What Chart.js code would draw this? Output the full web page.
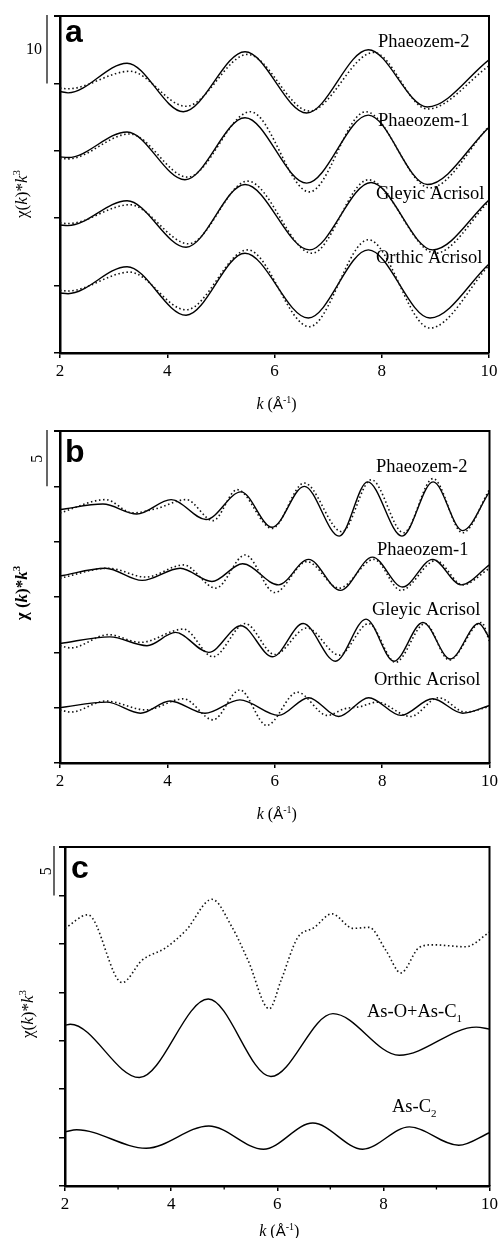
<!DOCTYPE html>
<html>
<head>
<meta charset="utf-8">
<script src="https://cdn.jsdelivr.net/npm/chart.js@4.4.0/dist/chart.umd.min.js"></script>
<style>
  body { margin: 0; background: #fff; width: 501px; height: 1238px; position: relative; overflow: hidden; }
  canvas { position: absolute; left: 0; }
</style>
</head>
<body>
<canvas id="ca" width="501" height="420" style="top:0px"></canvas>
<canvas id="cb" width="501" height="410" style="top:420px"></canvas>
<canvas id="cc" width="501" height="408" style="top:830px"></canvas>
<script>
// ---- panel a : chi(k)*k^3, offset curves (solid / dotted) ----
const aP2SolidK = [2, 2.15, 3.25, 4.3, 5.45, 6.6, 7.75, 8.85, 10];
const aP2SolidY = [38.8, 38.6, 43, 35.8, 44.7, 35.6, 45, 36.5, 43.5];
const aP2DotK = [2, 2.15, 3.3, 4.35, 5.5, 6.65, 7.85, 8.85, 10];
const aP2DotY = [39.3, 39.2, 41.8, 36.6, 44.3, 35.9, 44.6, 36.2, 42.6];
const aP1SolidK = [2, 2.15, 3.25, 4.33, 5.45, 6.6, 7.75, 8.85, 10];
const aP1SolidY = [29.1, 29.0, 32.8, 25.7, 34.9, 25.2, 35.3, 25.0, 33.5];
const aP1DotK = [2, 2.15, 3.3, 4.38, 5.55, 6.65, 7.7, 8.9, 10];
const aP1DotY = [28.9, 28.8, 32.5, 26.1, 35.8, 23.9, 35.8, 24.5, 33.6];
const aGlSolidK = [2, 2.15, 3.25, 4.35, 5.45, 6.65, 7.8, 8.95, 10];
const aGlSolidY = [19, 18.9, 22.6, 15.7, 25, 15.3, 25.3, 15.3, 22.7];
const aGlDotK = [2, 2.15, 3.3, 4.4, 5.5, 6.7, 7.75, 9.0, 10];
const aGlDotY = [19.3, 19.2, 22, 16.2, 25.5, 14.8, 25.7, 14.8, 22.5];
const aOrSolidK = [2, 2.15, 3.25, 4.35, 5.45, 6.63, 7.75, 8.9, 10];
const aOrSolidY = [8.9, 8.8, 12.8, 5.6, 14.8, 5.2, 15.3, 5.2, 13.2];
const aOrDotK = [2, 2.15, 3.3, 4.35, 5.5, 6.65, 7.75, 8.9, 10];
const aOrDotY = [9.3, 9.2, 12, 6.4, 15.3, 3.9, 16.8, 3.7, 13];

// ---- panel b ----
const bP2SolidK = [2, 2.8, 3.43, 4.07, 4.72, 5.37, 5.95, 6.55, 7.2, 7.73, 8.37, 8.95, 9.5, 10];
const bP2SolidY = [22.9, 23.4, 22.5, 23.8, 22, 24.5, 21.3, 25, 20.5, 25.4, 20.5, 25.4, 21, 24.5];
const bP2DotK = [2, 2.85, 3.35, 3.8, 4.35, 4.85, 5.3, 5.95, 6.55, 7.25, 7.8, 8.4, 8.95, 9.5, 10];
const bP2DotY = [22.6, 23.8, 22.6, 23.0, 23.8, 21.9, 24.7, 21.2, 25.3, 20.9, 25.6, 20.8, 25.7, 20.8, 24.7];
const bP1SolidK = [2, 2.85, 3.53, 4.24, 4.83, 5.4, 6.07, 6.63, 7.22, 7.82, 8.38, 8.94, 9.47, 10];
const bP1SolidY = [16.9, 17.6, 16.5, 17.6, 16.4, 18, 16.1, 18.4, 15.6, 18.6, 15.9, 18.4, 16.1, 17.9];
const bP1DotK = [2, 2.9, 3.6, 4.3, 4.9, 5.45, 6.0, 6.6, 7.2, 7.85, 8.35, 9.0, 9.5, 10];
const bP1DotY = [16.7, 17.6, 16.8, 17.9, 15.8, 18.8, 15.4, 18.2, 15.8, 18.4, 15.6, 18.3, 16.1, 17.6];
const bGlSolidK = [2, 2.93, 3.62, 4.15, 4.77, 5.37, 5.96, 6.53, 7.13, 7.7, 8.22, 8.76, 9.27, 9.8, 10];
const bGlSolidY = [10.8, 11.4, 10.6, 11.8, 10, 12.4, 9.6, 12.6, 9.2, 13, 9.2, 12.7, 9.4, 12.6, 11.3];
const bGlDotK = [2, 2.2, 2.9, 3.5, 4.3, 4.85, 5.45, 6.0, 6.6, 7.2, 7.75, 8.25, 8.8, 9.25, 9.85, 10];
const bGlDotY = [10.6, 10.4, 11.6, 10.9, 12.1, 9.6, 12.6, 9.8, 12.2, 9.75, 12.6, 9.1, 12.6, 9.3, 12.7, 11];
const bOrSolidK = [2, 2.87, 3.5, 4.05, 4.7, 5.35, 6.07, 6.63, 7.19, 7.75, 8.35, 8.94, 9.5, 10];
const bOrSolidY = [5, 5.5, 4.5, 5.6, 4.5, 5.7, 4.3, 5.9, 4.2, 5.9, 4.3, 5.8, 4.5, 5.2];
const bOrDotK = [2, 2.2, 2.85, 3.6, 4.3, 4.85, 5.35, 5.85, 6.42, 6.98, 7.3, 7.6, 7.9, 8.53, 9.05, 9.55, 10];
const bOrDotY = [4.8, 4.6, 5.6, 4.8, 5.8, 3.9, 6.6, 3.4, 6.4, 4.3, 4.9, 5.1, 5.5, 4.2, 5.9, 4.6, 5.1];

// ---- panel c ----
const cDotK = [2, 2.43, 3.08, 3.45, 3.9, 4.28, 4.77, 5.15, 5.45, 5.85, 6.07, 6.38, 6.7, 7.03, 7.43, 7.73, 8.05, 8.33, 8.67, 8.93, 9.55, 10];
const cDotY = [26.6, 28, 21, 23.3, 24.6, 26.4, 29.6, 26.7, 23.3, 18.3, 21.2, 25.6, 26.7, 28.1, 26.6, 26.7, 24.3, 22, 24.6, 24.9, 24.7, 26.2];
const cAsOC1K = [2, 2.1, 3.4, 4.7, 5.88, 7.05, 8.3, 9.75, 10];
const cAsOC1Y = [16.6, 16.7, 11.2, 19.3, 11.3, 17.8, 13.5, 16.4, 16.2];
const cAsC2K = [2, 2.22, 3.53, 4.71, 5.74, 6.67, 7.61, 8.49, 9.42, 10];
const cAsC2Y = [5.6, 5.8, 3.9, 6.2, 3.8, 6.5, 3.8, 6.1, 4.2, 5.5];

const kTicks = [2, 4, 6, 8, 10];
const cMinorTicks = [3, 5, 7, 9];

const SERIF = "'Liberation Serif', 'Times New Roman', serif";
const SANS = "'Liberation Sans', Arial, sans-serif";

const pts = (ks, ys) => ks.map((k, i) => ({ x: k, y: ys[i] }));
const solid = (ks, ys) => ({ data: pts(ks, ys), borderColor: '#000', borderWidth: 1.4 });
const dotted = (ks, ys) => ({ data: pts(ks, ys), borderColor: '#111', borderWidth: 1.6, borderDash: [1.5, 2.6] });

// draw a run of text pieces [text, font, dy]
function drawRuns(ctx, parts, x, y, align) {
  let w = 0;
  parts.forEach(p => { ctx.font = p[1]; w += ctx.measureText(p[0]).width; });
  let cx = align === 'center' ? x - w / 2 : x;
  parts.forEach(p => {
    ctx.font = p[1];
    ctx.fillText(p[0], cx, y + (p[2] || 0));
    cx += ctx.measureText(p[0]).width;
  });
}

function makePanel(id, P) {
  const decor = {
    id: 'decor',
    afterDraw(chart) {
      const { ctx, chartArea: a, scales: { x, y } } = chart;
      ctx.save();
      ctx.strokeStyle = '#000';
      ctx.fillStyle = '#000';
      // top and right frame
      ctx.lineWidth = 2;
      ctx.beginPath();
      ctx.moveTo(a.left - 6, a.top);
      ctx.lineTo(a.right, a.top);
      ctx.lineTo(a.right, a.bottom);
      ctx.stroke();
      // minor ticks
      ctx.lineWidth = 1.3;
      (P.minor || []).forEach(v => {
        const px = x.getPixelForValue(v);
        ctx.beginPath(); ctx.moveTo(px, a.bottom); ctx.lineTo(px, a.bottom + 3.5); ctx.stroke();
      });
      // scale bar
      const y0 = y.getPixelForValue(P.yMax), y1 = y.getPixelForValue(P.yMax - P.bar);
      const bx = a.left - P.barOff;
      ctx.lineWidth = 1.2;
      ctx.beginPath(); ctx.moveTo(bx, y0 - 1); ctx.lineTo(bx, y1); ctx.stroke();
      ctx.textBaseline = 'middle';
      ctx.textAlign = 'center';
      ctx.font = '16px ' + SERIF;
      if (P.barRot) {
        ctx.save();
        ctx.translate(bx - P.barLabOff, (y0 + y1) / 2);
        ctx.rotate(-Math.PI / 2);
        ctx.fillText(String(P.bar), 0, 0);
        ctx.restore();
      } else {
        ctx.fillText(String(P.bar), bx - P.barLabOff, (y0 + y1) / 2);
      }
      ctx.textAlign = 'left';
      ctx.textBaseline = 'alphabetic';
      // panel letter
      ctx.font = 'bold 32px ' + SANS;
      ctx.fillText(P.letter, P.letterPos[0], P.letterPos[1]);
      // curve labels
      P.labels.forEach(l => drawRuns(ctx, l.parts, l.x, l.y, 'left'));
      // x title
      const it = 'italic 16px ' + SERIF, rg = '16px ' + SERIF;
      drawRuns(ctx, [['k', it], [' (', rg], ['Å', '15px ' + SANS], ['-1', '10px ' + SERIF, -6], [')', rg]],
        (a.left + a.right) / 2 + 2, P.xTitleY, 'center');
      // y title
      ctx.save();
      ctx.translate(P.yTitle[0], P.yTitle[1]);
      ctx.rotate(-Math.PI / 2);
      drawRuns(ctx, P.yTitleParts, 0, 0, 'center');
      ctx.restore();
      ctx.restore();
    }
  };

  return new Chart(document.getElementById(id), {
    type: 'line',
    data: { datasets: P.datasets },
    options: {
      responsive: false,
      animation: false,
      devicePixelRatio: 1,
      layout: { padding: { top: P.pad[0], right: P.pad[1], left: 0, bottom: 0 } },
      plugins: { legend: { display: false }, tooltip: { enabled: false } },
      elements: { point: { radius: 0 }, line: { cubicInterpolationMode: 'monotone', fill: false } },
      scales: {
        x: {
          type: 'linear', min: 2, max: 10,
          afterBuildTicks: s => { s.ticks = kTicks.map(v => ({ value: v })); },
          ticks: { color: '#000', font: { family: SERIF, size: 17 }, padding: 3, maxRotation: 0 },
          grid: { drawOnChartArea: false, tickLength: 5, color: '#000', lineWidth: 1.5 },
          border: { color: '#000', width: 2.5 },
          afterFit: s => { s.height = P.xh; }
        },
        y: {
          min: 0, max: P.yMax,
          ticks: { stepSize: P.bar, display: false },
          grid: { drawOnChartArea: false, tickLength: 6, color: '#000', lineWidth: 1.5 },
          border: { color: '#000', width: 2.5 },
          afterFit: s => { s.width = P.yw; }
        }
      }
    },
    plugins: [decor]
  });
}

const LAB = '18.5px ' + SERIF;
const IT18 = 'italic 17px ' + SERIF, RG18 = '17px ' + SERIF;
const plainYTitle = [['χ(', RG18], ['k', IT18], [')*', RG18], ['k', IT18], ['3', '11px ' + SERIF, -7]];

makePanel('ca', {
  pad: [16, 12], yw: 60, xh: 67, yMax: 50, bar: 10, barOff: 13, barLabOff: 13, barRot: false,
  letter: 'a', letterPos: [65, 42], xTitleY: 409, yTitle: [27, 194], yTitleParts: plainYTitle,
  labels: [
    { parts: [['Phaeozem-2', LAB]], x: 378, y: 47 },
    { parts: [['Phaeozem-1', LAB]], x: 378, y: 126 },
    { parts: [['Gleyic Acrisol', LAB]], x: 376, y: 199 },
    { parts: [['Orthic Acrisol', LAB]], x: 376, y: 263 }
  ],
  datasets: [
    dotted(aP2DotK, aP2DotY), solid(aP2SolidK, aP2SolidY),
    dotted(aP1DotK, aP1DotY), solid(aP1SolidK, aP1SolidY),
    dotted(aGlDotK, aGlDotY), solid(aGlSolidK, aGlSolidY),
    dotted(aOrDotK, aOrDotY), solid(aOrSolidK, aOrSolidY)
  ]
});

const BIT = 'bold italic 17px ' + SERIF, BRG = 'bold 17px ' + SERIF;
makePanel('cb', {
  pad: [11, 10], yw: 60, xh: 67, yMax: 30, bar: 5, barOff: 13, barLabOff: 9, barRot: true,
  letter: 'b', letterPos: [65, 42], xTitleY: 399, yTitle: [27, 173],
  yTitleParts: [['χ (', BRG], ['k', BIT], [')*', BRG], ['k', BIT], ['3', 'bold 11px ' + SERIF, -7]],
  labels: [
    { parts: [['Phaeozem-2', LAB]], x: 376, y: 52 },
    { parts: [['Phaeozem-1', LAB]], x: 377, y: 135 },
    { parts: [['Gleyic Acrisol', LAB]], x: 372, y: 195 },
    { parts: [['Orthic Acrisol', LAB]], x: 374, y: 265 }
  ],
  datasets: [
    dotted(bP2DotK, bP2DotY), solid(bP2SolidK, bP2SolidY),
    dotted(bP1DotK, bP1DotY), solid(bP1SolidK, bP1SolidY),
    dotted(bGlDotK, bGlDotY), solid(bGlSolidK, bGlSolidY),
    dotted(bOrDotK, bOrDotY), solid(bOrSolidK, bOrSolidY)
  ]
});

makePanel('cc', {
  pad: [17, 8], yw: 65, xh: 52, yMax: 35, bar: 5, barOff: 11, barLabOff: 7, barRot: true, minor: cMinorTicks,
  letter: 'c', letterPos: [71, 48], xTitleY: 406, yTitle: [33, 184], yTitleParts: plainYTitle,
  labels: [
    { parts: [['As-O+As-C', LAB], ['1', '11px ' + SERIF, 5]], x: 367, y: 187 },
    { parts: [['As-C', LAB], ['2', '11px ' + SERIF, 5]], x: 392, y: 282 }
  ],
  datasets: [
    dotted(cDotK, cDotY), solid(cAsOC1K, cAsOC1Y), solid(cAsC2K, cAsC2Y)
  ]
});
</script>
</body>
</html>
